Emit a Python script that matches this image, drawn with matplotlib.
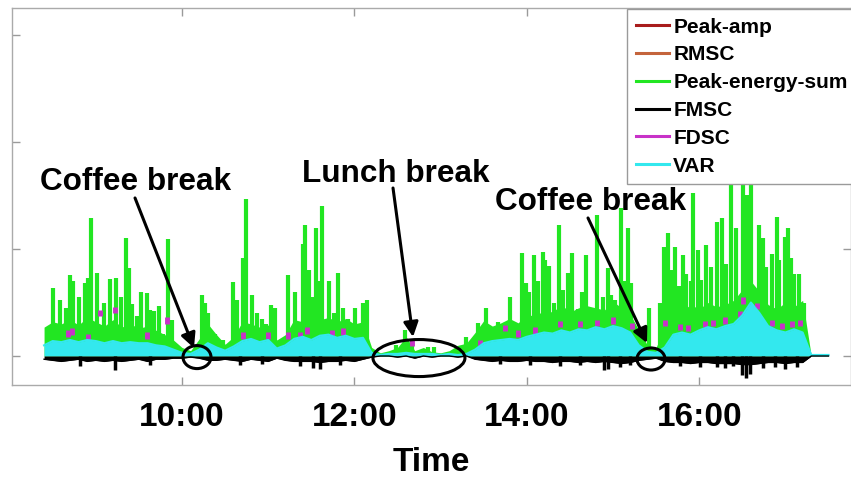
import numpy as np
import matplotlib
matplotlib.use("Agg")
import matplotlib.pyplot as plt
from matplotlib.lines import Line2D
from matplotlib.patches import Ellipse

plt.rcParams['font.family'] = ['Liberation Sans', 'DejaVu Sans']
plt.rcParams['font.weight'] = 'bold'

# time grid (hours), 0.1 h steps from 8:24 to 17:30
t_grid = np.round(np.arange(8.4, 17.55, 0.1), 2)

# VAR (cyan area)
var = [0.10, 0.14, 0.13, 0.15, 0.13, 0.15, 0.14, 0.12, 0.14, 0.12,
       0.13, 0.12, 0.12, 0.10, 0.09, 0.06, 0.03, 0.02, 0.06, 0.12,
       0.08, 0.05, 0.09, 0.14, 0.16, 0.13, 0.15, 0.07, 0.10, 0.16,
       0.18, 0.15, 0.19, 0.20, 0.17, 0.19, 0.16, 0.17, 0.03, 0.01,
       0.02, 0.02, 0.03, 0.02, 0.02, 0.02, 0.01, 0.02, 0.01, 0.02,
       0.06, 0.12, 0.14, 0.15, 0.16, 0.15, 0.18, 0.20, 0.22, 0.21,
       0.24, 0.22, 0.25, 0.24, 0.27, 0.25, 0.28, 0.26, 0.22, 0.10,
       0.04, 0.03, 0.08, 0.20, 0.22, 0.20, 0.24, 0.27, 0.25, 0.28,
       0.30, 0.38, 0.50, 0.40, 0.28, 0.24, 0.22, 0.25, 0.22, 0.01,
       0.01, 0.01]

# Peak-energy-sum (green) dense level between the spikes
pes_base = [0.27, 0.32, 0.30, 0.34, 0.29, 0.36, 0.32, 0.28, 0.34, 0.27,
            0.30, 0.26, 0.28, 0.24, 0.20, 0.15, 0.08, 0.05, 0.16, 0.30,
            0.20, 0.11, 0.18, 0.32, 0.30, 0.27, 0.29, 0.15, 0.20, 0.34,
            0.32, 0.37, 0.34, 0.36, 0.32, 0.35, 0.30, 0.32, 0.08, 0.03,
            0.05, 0.08, 0.18, 0.05, 0.08, 0.04, 0.03, 0.05, 0.10, 0.12,
            0.22, 0.33, 0.28, 0.31, 0.35, 0.31, 0.39, 0.37, 0.43, 0.41,
            0.48, 0.41, 0.45, 0.47, 0.45, 0.43, 0.51, 0.45, 0.39, 0.24,
            0.10, 0.08, 0.27, 0.44, 0.42, 0.48, 0.44, 0.50, 0.46, 0.48,
            0.52, 0.62, 0.70, 0.60, 0.48, 0.44, 0.50, 0.46, 0.52, 0.00,
            0.00, 0.00]

# FMSC (black) band below zero
fmsc = [-0.03, -0.04, -0.05, -0.04, -0.03, -0.05, -0.04, -0.05, -0.04, -0.05,
        -0.04, -0.03, -0.05, -0.03, -0.03, -0.02, -0.02, -0.01, -0.02, -0.04,
        -0.04, -0.03, -0.04, -0.05, -0.03, -0.04, -0.05, -0.02, -0.04, -0.05,
        -0.05, -0.05, -0.06, -0.05, -0.05, -0.04, -0.05, -0.03, -0.01, 0.00,
        0.00, -0.01, 0.00, -0.02, 0.00, -0.01, 0.00, 0.00, -0.01, 0.00,
        -0.03, -0.04, -0.05, -0.04, -0.05, -0.05, -0.04, -0.05, -0.05, -0.06,
        -0.05, -0.05, -0.06, -0.05, -0.06, -0.05, -0.06, -0.07, -0.06, -0.04,
        -0.03, -0.02, -0.05, -0.06, -0.06, -0.07, -0.06, -0.06, -0.07, -0.07,
        -0.07, -0.08, -0.08, -0.07, -0.06, -0.06, -0.07, -0.06, -0.06, 0.00,
        0.00, 0.00]

# FMSC deeper dips (time, value)
fmsc_dip_t = [8.82, 9.22, 9.63, 10.67, 10.93, 11.37, 11.52, 11.60, 11.83,
              13.69, 14.04, 14.39, 14.62, 14.89, 14.94, 15.08, 15.20, 15.78,
              16.01, 16.21, 16.30, 16.39, 16.50, 16.54, 16.59, 16.74, 16.88,
              17.00, 17.13]
fmsc_dip_v = [-0.09, -0.13, -0.08, -0.08, -0.07, -0.09, -0.11, -0.12, -0.08,
              -0.07, -0.08, -0.09, -0.08, -0.13, -0.12, -0.10, -0.08, -0.09,
              -0.10, -0.10, -0.11, -0.09, -0.18, -0.21, -0.17, -0.11, -0.10,
              -0.12, -0.10]

# FDSC (magenta) peaks poking out of the other curves (time, value)
fdsc_t = [8.68, 8.72, 8.91, 9.05, 9.22, 9.59, 9.83, 10.71, 11.00, 11.23,
          11.37, 11.45, 11.74, 11.87, 12.67, 13.46, 13.75, 13.90, 14.10, 14.39,
          14.62, 14.81, 15.00, 15.22, 15.60, 15.78, 15.87, 16.07, 16.16, 16.30,
          16.47, 16.51, 16.67, 16.84, 16.96, 17.08, 17.17]
fdsc_v = [0.24, 0.26, 0.21, 0.43, 0.46, 0.22, 0.36, 0.22, 0.22, 0.22,
          0.22, 0.27, 0.24, 0.26, 0.15, 0.15, 0.29, 0.24, 0.27, 0.33,
          0.33, 0.34, 0.36, 0.31, 0.34, 0.30, 0.29, 0.33, 0.34, 0.36,
          0.42, 0.55, 0.50, 0.34, 0.31, 0.33, 0.34]

# Peak-energy-sum spikes (time in hours, height)
spike_t = [8.50, 8.58, 8.65, 8.70, 8.74, 8.81, 8.87, 8.91, 8.95, 9.01,
           9.09, 9.16, 9.24, 9.29, 9.35, 9.38, 9.42, 9.48, 9.52, 9.59,
           9.63, 9.67, 9.73, 9.78, 9.84, 9.88,
           10.23, 10.27, 10.30, 10.38, 10.48, 10.59, 10.64, 10.71, 10.74, 10.81,
           10.87, 10.93, 10.98, 11.03, 11.08, 11.23, 11.31, 11.40, 11.43, 11.47,
           11.51, 11.55, 11.58, 11.63, 11.70, 11.76, 11.81, 11.87, 11.93, 12.01,
           12.10, 12.15,
           12.48, 12.59, 12.67, 12.85, 12.92, 13.29,
           13.43, 13.53, 13.62, 13.67, 13.76, 13.81, 13.85, 13.95, 13.99, 14.02,
           14.08, 14.13, 14.19, 14.21, 14.26, 14.31, 14.37, 14.42, 14.48, 14.53,
           14.59, 14.64, 14.69, 14.74, 14.81, 14.88, 14.94, 14.98, 15.02, 15.09,
           15.14, 15.17, 15.21, 15.42,
           15.55, 15.59, 15.64, 15.67, 15.72, 15.77, 15.81, 15.85, 15.90, 15.93,
           15.99, 16.02, 16.08, 16.14, 16.21, 16.26, 16.31, 16.37, 16.43, 16.51,
           16.55, 16.60, 16.69, 16.74, 16.78, 16.84, 16.90, 16.93, 16.99, 17.03,
           17.07, 17.10, 17.16, 17.21]
spike_h = [0.64, 0.52, 0.45, 0.76, 0.70, 0.55, 0.68, 0.73, 1.29, 0.78,
           0.50, 0.72, 0.73, 0.55, 1.10, 0.82, 0.49, 0.37, 0.60, 0.59,
           0.43, 0.42, 0.47, 0.21, 1.09, 0.34,
           0.57, 0.50, 0.40, 0.21, 0.15, 0.69, 0.52, 0.92, 1.47, 0.57,
           0.40, 0.35, 0.30, 0.48, 0.45, 0.76, 0.60, 1.05, 1.22, 0.80,
           0.55, 1.20, 0.70, 1.40, 0.70, 0.40, 0.78, 0.45, 0.35, 0.45,
           0.50, 0.52,
           0.10, 0.24, 0.15, 0.08, 0.08, 0.18,
           0.31, 0.45, 0.18, 0.32, 0.32, 0.55, 0.31, 0.96, 0.68, 0.60,
           0.94, 0.70, 0.97, 0.90, 0.84, 0.50, 1.22, 0.62, 0.78, 0.96,
           0.44, 0.60, 0.94, 0.43, 1.32, 0.55, 0.82, 0.57, 0.52, 1.38,
           0.70, 1.20, 0.68, 0.45,
           0.50, 1.02, 1.15, 0.80, 1.02, 0.65, 0.94, 0.77, 0.70, 1.52,
           0.99, 0.71, 1.04, 0.83, 1.25, 1.29, 0.86, 1.90, 1.20, 1.95,
           1.50, 1.85, 1.22, 1.10, 0.83, 0.95, 1.30, 0.90, 1.11, 1.20,
           0.92, 0.77, 0.77, 0.50]

series_names = ['Peak-amp', 'RMSC', 'Peak-energy-sum', 'FMSC', 'FDSC', 'VAR']
series_colors = ['#a81c1c', '#c4643c', '#22e622', '#000000', '#c832c8', '#33e8ee']

tick_hours = [10, 12, 14, 16]
tick_labels = ['10:00', '12:00', '14:00', '16:00']

fig = plt.figure(figsize=(8.51, 4.79), dpi=100)
ax = fig.add_axes([0.0141, 0.1962, 0.9859, 0.7871])

green = series_colors[2]
ax.fill_between(t_grid, 0, pes_base, color=green, lw=0, zorder=2)
ax.vlines(spike_t, 0, spike_h, color=green, lw=3.0, zorder=2)
# only the tips of the FDSC curve show above the others
ax.vlines(fdsc_t, np.array(fdsc_v) - 0.06, fdsc_v, color=series_colors[4],
          lw=3.5, zorder=2.5)
ax.fill_between(t_grid, 0, var, color=series_colors[5], lw=0, zorder=3)
ax.plot(t_grid, var, color=series_colors[5], lw=1.5, zorder=3)
ax.fill_between(t_grid, fmsc, 0, color='black', lw=0, zorder=3.5)
ax.plot(t_grid, fmsc, color='black', lw=1.0, zorder=3.5)
ax.vlines(fmsc_dip_t, 0, fmsc_dip_v, color='black', lw=2.5, zorder=3.5)

ax.set_xlim(8.028, 17.761)
ax.set_ylim(-0.271, 3.252)
ax.set_xticks(tick_hours)
ax.set_xticklabels(tick_labels)
ax.set_yticks([0, 1, 2, 3])
ax.set_yticklabels([])
ax.tick_params(direction='in', length=6, width=1, color='#9a9a9a',
               top=True, right=True, labelsize=24, pad=12)
for lbl in ax.get_xticklabels():
    lbl.set_fontweight('bold')
for sp in ax.spines.values():
    sp.set_color('#aaaaaa')
    sp.set_linewidth(1)
ax.set_xlabel('Time', fontsize=24, fontweight='bold', labelpad=10)

# annotations
ann_font = dict(fontsize=22.7, fontweight='bold', color='black', zorder=6)
arrow = dict(arrowstyle='-|>', lw=2.2, color='black', mutation_scale=22,
             shrinkA=0, shrinkB=0)
ax.text(8.353, 1.551, 'Coffee break', ha='left', va='baseline', **ann_font)
ax.annotate('', xy=(10.139, 0.075), xytext=(9.455, 1.477), arrowprops=arrow, zorder=6)
ax.add_patch(Ellipse((10.174, -0.01), 0.325, 0.215, fill=False, lw=2.2,
                     ec='black', zorder=6))

ax.text(11.392, 1.626, 'Lunch break', ha='left', va='baseline', **ann_font)
ax.annotate('', xy=(12.68, 0.178), xytext=(12.448, 1.570), arrowprops=arrow, zorder=6)
ax.add_patch(Ellipse((12.749, -0.019), 1.067, 0.346, fill=False, lw=2.2,
                     ec='black', zorder=6))

ax.text(13.631, 1.364, 'Coffee break', ha='left', va='baseline', **ann_font)
ax.annotate('', xy=(15.394, 0.121), xytext=(14.71, 1.29), arrowprops=arrow, zorder=6)
ax.add_patch(Ellipse((15.441, -0.028), 0.325, 0.206, fill=False, lw=2.2,
                     ec='black', zorder=6))

handles = [Line2D([], [], color=c, lw=2.2) for c in series_colors]
leg = fig.legend(handles, series_names, loc='upper left',
                 bbox_to_anchor=(627 / 851, 1 - 9 / 479), borderaxespad=0,
                 prop={'weight': 'bold', 'size': 15}, handlelength=1.6,
                 handletextpad=0.2, labelspacing=0.42, borderpad=0.42,
                 fancybox=False, framealpha=1, edgecolor='#9a9a9a')
leg.get_frame().set_linewidth(1)
leg.set_zorder(10)

fig.savefig('out.png', dpi=100)
